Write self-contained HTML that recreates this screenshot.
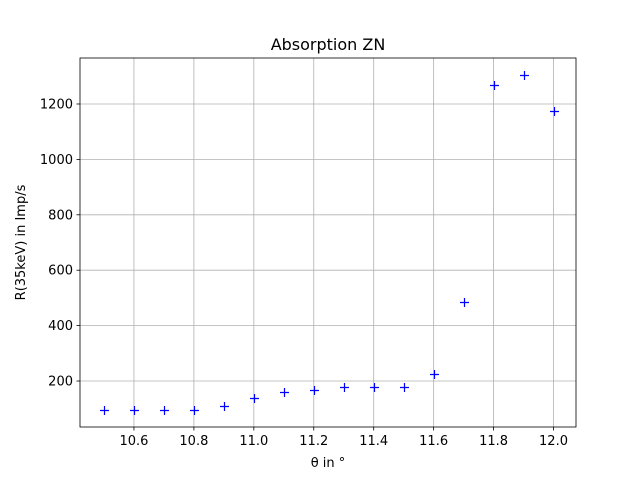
<!DOCTYPE html>
<html><head><meta charset="utf-8"><style>body{margin:0;background:#fff}svg{display:block;font-family:"DejaVu Sans","Liberation Sans",sans-serif}</style></head>
<body>
<svg id="chart" width="640" height="480"></svg>
<script>
const xValues=[10.5,10.6,10.7,10.8,10.9,11.0,11.1,11.2,11.3,11.4,11.5,11.6,11.7,11.8,11.9,12.0];
const yValues=[96,96,96,96,111,137,161,168,179,179,179,226,486,1270,1306,1173];
const xTicks=[10.6,10.8,11.0,11.2,11.4,11.6,11.8,12.0];
const yTicks=[200,400,600,800,1000,1200];
const L=80,R=576,T=58,B=427;
const xMin=10.42,xMax=12.075,yMin=34,yMax=1366;
const sx=v=>L+(v-xMin)/(xMax-xMin)*(R-L);
const sy=v=>B-(v-yMin)/(yMax-yMin)*(B-T);
const svg=document.getElementById('chart');
const NS='http://www.w3.org/2000/svg';
function mk(tag,attrs,parent){const e=document.createElementNS(NS,tag);for(const k in attrs)e.setAttribute(k,attrs[k]);(parent||svg).appendChild(e);return e;}
xTicks.forEach(t=>{const x=sx(t);
const g=mk('line',{x1:x,x2:x,y1:T,y2:B,stroke:'#b0b0b0','stroke-width':0.8});


mk('line',{x1:x,x2:x,y1:B,y2:B+3.5,stroke:'#000','stroke-width':0.8});
const tx=mk('text',{x:x,y:B+18,'font-size':13,'text-anchor':'middle'});tx.textContent=t.toFixed(1);

});
yTicks.forEach(t=>{const y=sy(t);
const g=mk('line',{x1:L,x2:R,y1:y,y2:y,stroke:'#b0b0b0','stroke-width':0.8});


mk('line',{x1:L-3.5,x2:L,y1:y,y2:y,stroke:'#000','stroke-width':0.8});
const tx=mk('text',{x:L-7,y:y+4.5,'font-size':13,'text-anchor':'end'});tx.textContent=t;

});
const fr=mk('rect',{x:L,y:T,width:R-L,height:B-T,fill:'none',stroke:'#000','stroke-width':0.8});


xValues.forEach((v,i)=>{const x=Math.round(sx(v))+0.5,y=Math.round(sy(yValues[i]))+0.5;
const p=mk('path',{d:`M${x-4.5},${y}H${x+4.5}M${x},${y-4.5}V${y+4.5}`,stroke:'#0000ff','stroke-width':1.2,fill:'none'});

});
const ti=mk('text',{x:(L+R)/2,y:50,'font-size':16,'text-anchor':'middle'});ti.textContent='Absorption ZN';


const xl=mk('text',{x:(L+R)/2,y:467,'font-size':13,'text-anchor':'middle'});xl.textContent='θ in °';


const yl=mk('text',{x:0,y:0,'font-size':13,'text-anchor':'middle',transform:`translate(25,${(T+B)/2}) rotate(-90)`});yl.textContent='R(35keV) in Imp/s';


</script>
</body></html>
